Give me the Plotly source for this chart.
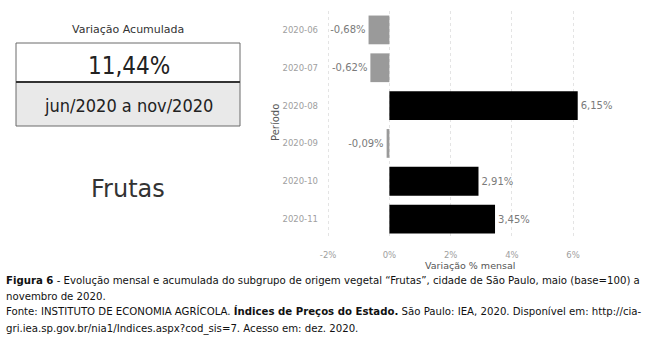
import plotly.graph_objects as go

periods = ["2020-06", "2020-07", "2020-08", "2020-09", "2020-10", "2020-11"]
monthly_var = [-0.68, -0.62, 6.15, -0.09, 2.91, 3.45]
x_ticks = [-2, 0, 2, 4, 6]
accum_label = "11,44%"
period_label = "jun/2020 a nov/2020"
group_name = "Frutas"
panel_title = "Variação Acumulada"
caption_lines = [
    "<b>Figura 6</b> - Evolução mensal e acumulada do subgrupo de origem vegetal “Frutas”, cidade de São Paulo, maio (base=100) a",
    "novembro de 2020.",
    "Fonte: INSTITUTO DE ECONOMIA AGRÍCOLA. <b>Índices de Preços do Estado.</b> São Paulo: IEA, 2020. Disponível em: http://cia-",
    "gri.iea.sp.gov.br/nia1/Indices.aspx?cod_sis=7. Acesso em: dez. 2020.",
]

W, H = 649, 358
L, R, T, B = 322, 33, 11, 120
PW, PH = W - L - R, H - T - B


def px(x):
    return (x - L) / PW


def py(y):
    return (H - B - y) / PH


colors = ["#000000" if v >= 0 else "#9a9a9a" for v in monthly_var]
texts = [f"{v:.2f}%".replace(".", ",") for v in monthly_var]

fig = go.Figure(go.Bar(
    y=periods, x=monthly_var, orientation="h",
    marker=dict(color=colors, line=dict(width=0)),
    text=texts, textposition="outside", cliponaxis=False,
    textfont=dict(family="DejaVu Sans", size=10, color="#7a7a7a"),
))

fig.update_layout(
    width=W, height=H,
    margin=dict(l=L, r=R, t=T, b=B, autoexpand=False),
    paper_bgcolor="white", plot_bgcolor="white",
    bargap=0.24, showlegend=False,
    font=dict(family="DejaVu Sans"),
    xaxis=dict(range=[-2.2, 7.4], tickvals=x_ticks, ticktext=[f"{t}%" for t in x_ticks],
               showgrid=True, gridcolor="#e4e4e4", griddash="dot", gridwidth=1,
               zeroline=False, showline=False, automargin=False,
               tickfont=dict(size=8.5, color="#a0a0a0"), ticklabelstandoff=10),
    yaxis=dict(type="category", categoryorder="array", categoryarray=periods, autorange="reversed",
               showgrid=False, zeroline=False, showline=False, automargin=False,
               tickfont=dict(size=8.5, color="#a0a0a0"), ticklabelstandoff=3),
)

shapes = [
    dict(type="rect", xref="paper", yref="paper", x0=px(16), x1=px(240), y0=py(43), y1=py(82),
         fillcolor="white", line=dict(color="#6a6a6a", width=1)),
    dict(type="rect", xref="paper", yref="paper", x0=px(16), x1=px(240), y0=py(82), y1=py(126),
         fillcolor="#e9e9e9", line=dict(color="#6a6a6a", width=1)),
    dict(type="line", xref="paper", yref="paper", x0=px(16), x1=px(240), y0=py(82), y1=py(82),
         line=dict(color="#333333", width=2)),
]

ann = [
    dict(text=panel_title, x=px(128), y=py(30), font=dict(size=11, color="#333")),
    dict(text=accum_label, x=px(129), y=py(66), font=dict(family="DejaVu Sans Condensed", size=24, color="#222")),
    dict(text=period_label, x=px(128), y=py(105), font=dict(family="DejaVu Sans Condensed", size=18, color="#222")),
    dict(text=group_name, x=px(128), y=py(189), font=dict(size=24, color="#333")),
    dict(text="Variação % mensal", x=px(470), y=py(265), font=dict(size=9.5, color="#555"), borderpad=0),
    dict(text="Período", x=px(276), y=py(123), textangle=-90, font=dict(size=10, color="#555")),
]
line_y = [280, 296, 312, 328]
for t, yy in zip(caption_lines, line_y):
    ann.append(dict(text=t, x=px(5), y=py(yy), xanchor="left",
                    font=dict(family="DejaVu Sans Condensed", size=11.3, color="#111"),
                    borderpad=0))

for a in ann:
    a.setdefault("xanchor", "center")
    a.update(xref="paper", yref="paper", yanchor="middle", showarrow=False)
    a["font"].setdefault("family", "DejaVu Sans")

fig.update_layout(shapes=shapes, annotations=ann)
fig.write_html("out.html", config={"displayModeBar": False},
               post_script="document.body.style.margin='0';document.body.style.overflow='hidden';")
